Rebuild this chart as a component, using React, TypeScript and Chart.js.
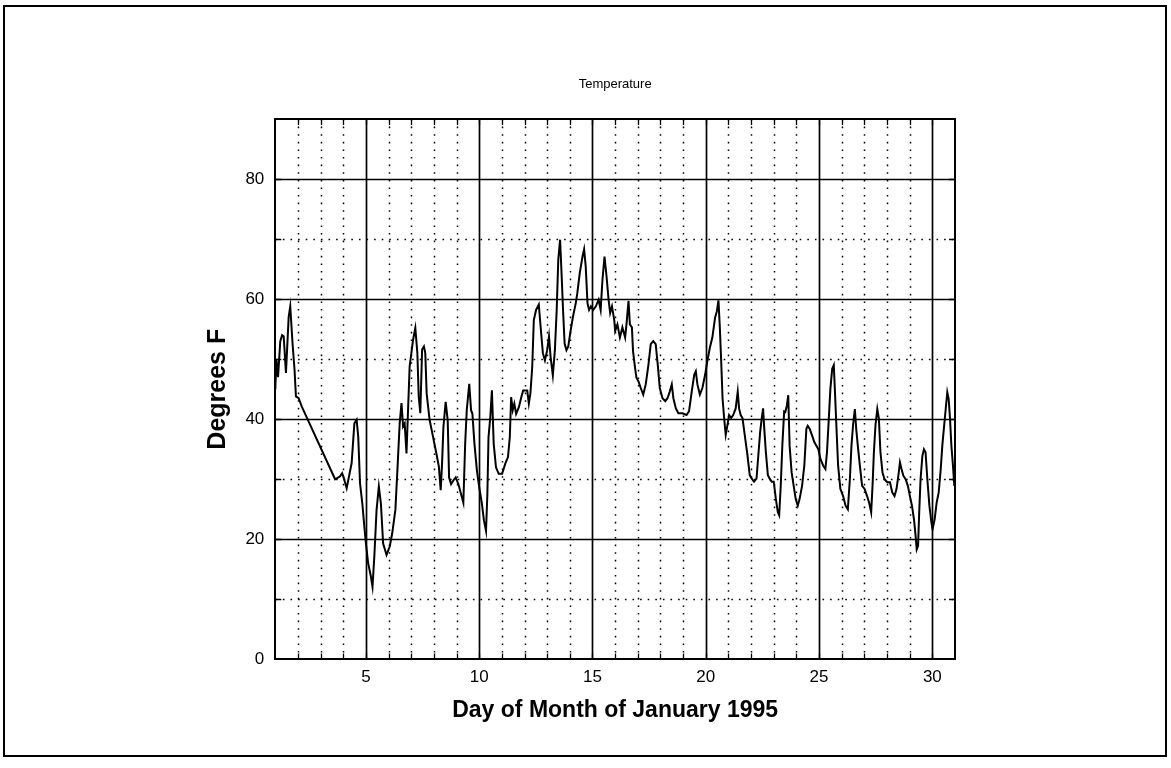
import React, { useEffect, useRef } from "react";
import { Chart, registerables } from "chart.js";

Chart.register(...registerables);

const FONT = "'Liberation Sans', Arial, Helvetica, sans-serif";

// ---- Data (day of month, degrees F) ----
const daysWeek1 = [
  1.0, 1.05, 1.12, 1.22, 1.3, 1.37, 1.47, 1.59, 1.66, 1.76, 1.85, 1.91, 2.03, 2.17,
  3.64, 3.86, 3.95, 4.0, 4.15, 4.37, 4.49, 4.59, 4.66, 4.74, 4.84, 4.93, 5.0, 5.1,
  5.22, 5.29, 5.37, 5.47, 5.57, 5.66, 5.76, 5.91, 6.05, 6.16, 6.3, 6.39, 6.49, 6.57,
  6.64, 6.71, 6.79, 6.86, 6.93, 7.08, 7.18, 7.27, 7.33, 7.4, 7.48, 7.56, 7.62, 7.68,
  7.81, 7.96, 8.11, 8.22, 8.3,
];
const tempsWeek1 = [
  45, 50, 47, 53, 54, 53.8, 47.7, 57, 58.8, 52.7, 48.2, 43.8, 43.5, 42.1,
  30, 30.5, 31, 30.5, 28.5, 32.7, 39.3, 39.9, 37.1, 29.3, 26, 22.1, 19.3, 16,
  13.8, 12.1, 17.1, 24.9, 28.8, 26, 19.3, 17.4, 18.8, 21, 24.9, 31.6, 39.3, 42.7,
  38.8, 39.3, 34.3, 41.6, 48.8, 53.2, 55.2, 51, 43.8, 41, 51.6, 52.1, 51, 44.3,
  39.9, 37.1, 34.3, 32.1, 28.2,
];

const daysWeek2 = [
  8.36, 8.42, 8.52, 8.61, 8.67, 8.76, 8.86, 8.96, 9.08, 9.2, 9.3, 9.38, 9.45, 9.56,
  9.64, 9.7, 9.79, 9.9, 10.0, 10.12, 10.21, 10.3, 10.36, 10.41, 10.49, 10.56, 10.64,
  10.74, 10.86, 11.01, 11.15, 11.27, 11.35, 11.41, 11.48, 11.55, 11.63, 11.75, 11.86,
  11.94, 12.12, 12.19, 12.26, 12.34, 12.41, 12.51, 12.63, 12.71, 12.81, 12.9, 13.0,
  13.08, 13.15, 13.25, 13.34, 13.42, 13.49, 13.57, 13.64, 13.7, 13.77, 13.85, 13.93,
  14.04, 14.14, 14.26, 14.33, 14.44, 14.56, 14.63, 14.7, 14.78, 14.85, 14.93, 15.03,
  15.15, 15.27, 15.36, 15.44, 15.53, 15.62, 15.71, 15.78, 15.86, 15.96,
];
const tempsWeek2 = [
  32.6, 38.7, 42.9, 39.8, 30.3, 29.2, 29.8, 30.3, 29.2, 27.5, 26.1, 35.9, 41.5, 45.9,
  41.5, 40.9, 35.9, 31.4, 28.7, 25.9, 23.1, 21.4, 27.5, 37, 40.4, 44.8, 35.9,
  32, 30.9, 30.9, 32.6, 33.7, 37, 43.7, 41.5, 42.6, 40.9, 42, 43.7,
  44.8, 44.8, 42.6, 44.3, 48.7, 56.5, 58.2, 59.1, 55.4, 51, 49.8, 51.5,
  53.8, 50.4, 47.3, 51.5, 58.2, 66.6, 69.9, 63.8, 58.2, 52.6, 51.5, 52.1,
  54.9, 57.1, 59.3, 61, 64.4, 67.1, 68.3, 65.5, 59.3, 58.2, 58.8, 58.2,
  58.8, 59.9, 58.2, 63.2, 67.1, 63.8, 59.9, 57.7, 58.8, 56.5,
];

const daysWeek3 = [
  16.0, 16.1, 16.21, 16.32, 16.44, 16.5, 16.59, 16.65, 16.74, 16.79, 16.88, 16.94,
  17.03, 17.13, 17.24, 17.35, 17.47, 17.57, 17.68, 17.79, 17.88, 17.97, 18.09, 18.21,
  18.31, 18.41, 18.5, 18.57, 18.68, 18.79, 18.97, 19.15, 19.26, 19.38, 19.49, 19.56,
  19.63, 19.74, 19.85, 19.97, 20.07, 20.18, 20.29, 20.41, 20.49, 20.56, 20.62, 20.68,
  20.74, 20.81, 20.88, 20.96, 21.03, 21.12, 21.21, 21.32, 21.41, 21.47, 21.54, 21.62,
  21.74, 21.84, 21.94, 22.03, 22.13, 22.24, 22.32, 22.4, 22.47, 22.53, 22.57, 22.65,
  22.74, 22.82, 22.91, 23.0, 23.09, 23.18, 23.24, 23.31, 23.38, 23.46,
];
const tempsWeek3 = [
  54.7, 55.8, 53.6, 55.3, 53.6, 55.8, 59.7, 55.8, 55.3, 51.3, 48.5, 46.9,
  46.3, 45.2, 44.1, 45.8, 49.1, 52.5, 53, 52.5, 49.1, 45.2, 43.5, 43,
  43.5, 44.6, 45.8, 43.5, 41.8, 41, 41, 40.7, 41.3, 44.6, 47.4, 48,
  45.8, 44.1, 45.2, 47.4, 49.7, 51.9, 53.6, 56.9, 58, 59.8, 55.3, 49.7,
  43.5, 40.2, 37.4, 39.1, 40.7, 40.2, 40.7, 41.8, 44.6, 41.8, 40.7, 40.2,
  36.8, 34, 30.7, 30.1, 29.6, 30.1, 34, 37.9, 40.2, 41.8, 39.1, 34.6,
  30.7, 30.1, 29.6, 29.6, 26.8, 24.5, 24, 29, 35.7, 41.3,
];

const daysWeek4 = [
  23.51, 23.58, 23.64, 23.7, 23.79, 23.88, 23.97, 24.06, 24.14, 24.25, 24.35, 24.44,
  24.5, 24.59, 24.69, 24.79, 24.88, 24.97, 25.06, 25.18, 25.28, 25.35, 25.43, 25.5,
  25.58, 25.65, 25.69, 25.77, 25.84, 25.94, 26.06, 26.17, 26.27, 26.36, 26.43, 26.5,
  26.58, 26.64, 26.71, 26.8, 26.9, 27.01, 27.12, 27.21, 27.3, 27.36, 27.42, 27.49,
  27.57, 27.64, 27.71, 27.8, 27.89, 28.01, 28.13, 28.23, 28.33, 28.42, 28.5, 28.57,
  28.64, 28.72, 28.82, 28.92, 29.01, 29.1, 29.19, 29.26, 29.31, 29.37, 29.42, 29.48,
  29.56, 29.63, 29.7, 29.78, 29.87, 29.96, 30.01, 30.1, 30.19, 30.28, 30.37, 30.44,
  30.52, 30.59, 30.66, 30.72, 30.78, 30.84, 30.91, 30.97, 31.0,
];
const tempsWeek4 = [
  41.2, 42.3, 44, 35.6, 31.1, 28.9, 26.7, 25.6, 26.7, 28.9, 32.3, 38.4,
  38.9, 38.4, 37.3, 36.2, 35.6, 35, 33.4, 32.3, 31.7, 34.5, 40.1, 45.1,
  48.4, 49, 45.6, 38.4, 32.3, 28.4, 27.2, 25.6, 25, 30, 35.6, 39,
  41.7, 38.4, 35.6, 32.3, 28.9, 28.4, 27.2, 26.1, 24.5, 28.9, 34.5, 39,
  41.7, 40.1, 34.5, 31.1, 30, 29.5, 29.5, 27.8, 27.2, 28.4, 30.6, 32.8,
  31.7, 30.6, 30, 28.9, 27.2, 25.6, 23.3, 20.6, 18.3, 18.9, 24.5, 30,
  33.9, 35, 34.5, 30, 25.6, 22.8, 21.7, 23.3, 26.1, 27.8, 31.7, 35.6,
  38.9, 41.7, 44.5, 43.4, 40.1, 35.6, 32.3, 28.9, 30,
];

const xTickLabels = [5, 10, 15, 20, 25, 30];
const yTickLabels = [0, 20, 40, 60, 80];
const X_MIN = 1;
const X_MAX = 31;
const Y_MIN = 0;
const Y_MAX = 90;
const CHART_TITLE = "Temperature";

const allDays = [...daysWeek1, ...daysWeek2, ...daysWeek3, ...daysWeek4];
const allTemps = [...tempsWeek1, ...tempsWeek2, ...tempsWeek3, ...tempsWeek4];

const gridPlugin = {
  id: "matlabGrid",
  beforeDatasetsDraw(chart: any) {
    const { ctx, chartArea, scales } = chart;
    const { left, right, top, bottom } = chartArea;
    const xs = scales.x;
    const ys = scales.y;
    ctx.save();
    ctx.strokeStyle = "#000";
    for (let d = X_MIN + 1; d < X_MAX; d++) {
      const px = Math.round(xs.getPixelForValue(d)) + 0.5;
      const major = d % 5 === 0;
      ctx.beginPath();
      ctx.lineWidth = major ? 1.7 : 1.5;
      ctx.setLineDash(major ? [] : [1.6, 6]);
      ctx.moveTo(px, top);
      ctx.lineTo(px, bottom);
      ctx.stroke();
    }
    for (let v = Y_MIN + 10; v < Y_MAX; v += 10) {
      const py = Math.round(ys.getPixelForValue(v)) + 0.5;
      const major = v % 20 === 0;
      ctx.beginPath();
      ctx.lineWidth = major ? 1.7 : 1.5;
      ctx.setLineDash(major ? [] : [1.6, 6]);
      ctx.moveTo(left, py);
      ctx.lineTo(right, py);
      ctx.stroke();
    }
    ctx.setLineDash([]);
    ctx.lineWidth = 1.3;
    for (let d = X_MIN + 1; d < X_MAX; d++) {
      const px = Math.round(xs.getPixelForValue(d)) + 0.5;
      ctx.beginPath();
      ctx.moveTo(px, top);
      ctx.lineTo(px, top + 6);
      ctx.moveTo(px, bottom);
      ctx.lineTo(px, bottom - 6);
      ctx.stroke();
    }
    for (let v = Y_MIN + 10; v < Y_MAX; v += 10) {
      const py = Math.round(ys.getPixelForValue(v)) + 0.5;
      ctx.beginPath();
      ctx.moveTo(left, py);
      ctx.lineTo(left + 6, py);
      ctx.moveTo(right, py);
      ctx.lineTo(right - 6, py);
      ctx.stroke();
    }
    ctx.lineWidth = 2;
    ctx.strokeRect(Math.round(left), Math.round(top), Math.round(right - left), Math.round(bottom - top));
    ctx.restore();
  },
  afterDraw(chart: any) {
    const { ctx, chartArea } = chart;
    ctx.save();
    ctx.fillStyle = "#000";
    ctx.font = `13px ${FONT}`;
    ctx.textAlign = "center";
    ctx.textBaseline = "middle";
    ctx.fillText(CHART_TITLE, (chartArea.left + chartArea.right) / 2, chartArea.top - 35);
    ctx.restore();
  },
};

export default function App() {
  const canvasRef = useRef<HTMLCanvasElement | null>(null);

  useEffect(() => {
    const canvas = canvasRef.current;
    if (!canvas) return;
    const points = allDays.map((d, i) => ({ x: d, y: allTemps[i] }));
    const chart = new Chart(canvas, {
      type: "line",
      data: {
        datasets: [
          {
            label: CHART_TITLE,
            data: points,
            borderColor: "#000",
            borderWidth: 2,
            pointRadius: 0,
            fill: false,
            tension: 0,
          },
        ],
      },
      options: {
        responsive: false,
        maintainAspectRatio: false,
        animation: false,
        layout: { padding: { left: 190, right: 216, top: 119, bottom: 40 } },
        plugins: {
          legend: { display: false },
          tooltip: { enabled: false },
          title: { display: false },
        },
        scales: {
          x: {
            type: "linear",
            min: X_MIN,
            max: X_MAX,
            grid: { display: false, drawTicks: false },
            border: { display: false },
            afterBuildTicks: (s: any) => {
              s.ticks = xTickLabels.map((v) => ({ value: v }));
            },
            ticks: {
              autoSkip: false,
              maxRotation: 0,
              padding: 8,
              color: "#000",
              font: { family: FONT, size: 17 },
              callback: (v: any) => String(v),
            },
            title: {
              display: true,
              text: "Day of Month of January 1995",
              color: "#000",
              font: { family: FONT, size: 23, weight: "bold" },
              padding: { top: 0, bottom: 3.2 },
            },
            afterFit: (s: any) => {
              s.height = 68.6;
            },
          },
          y: {
            type: "linear",
            min: Y_MIN,
            max: Y_MAX,
            grid: { display: false, drawTicks: false },
            border: { display: false },
            afterBuildTicks: (s: any) => {
              s.ticks = yTickLabels.map((v) => ({ value: v }));
            },
            ticks: {
              autoSkip: false,
              padding: 11,
              color: "#000",
              font: { family: FONT, size: 17 },
              callback: (v: any) => String(v),
            },
            title: {
              display: true,
              text: "Degrees F",
              color: "#000",
              font: { family: FONT, size: 25, weight: "bold" },
              padding: { top: 13, bottom: 0 },
            },
            afterFit: (s: any) => {
              s.width = 85.3;
            },
          },
        },
      },
      plugins: [gridPlugin],
    });
    return () => chart.destroy();
  }, []);

  return (
    <div style={{ position: "absolute", left: 0, top: 0, width: 1171, height: 768, background: "#fff" }}>
      <div
        style={{
          position: "absolute",
          left: 3,
          top: 5,
          width: 1164,
          height: 752,
          border: "2px solid #000",
          boxSizing: "border-box",
        }}
      />
      <canvas
        ref={canvasRef}
        width={1171}
        height={768}
        style={{ position: "absolute", left: 0, top: 0, width: 1171, height: 768 }}
      />
    </div>
  );
}
